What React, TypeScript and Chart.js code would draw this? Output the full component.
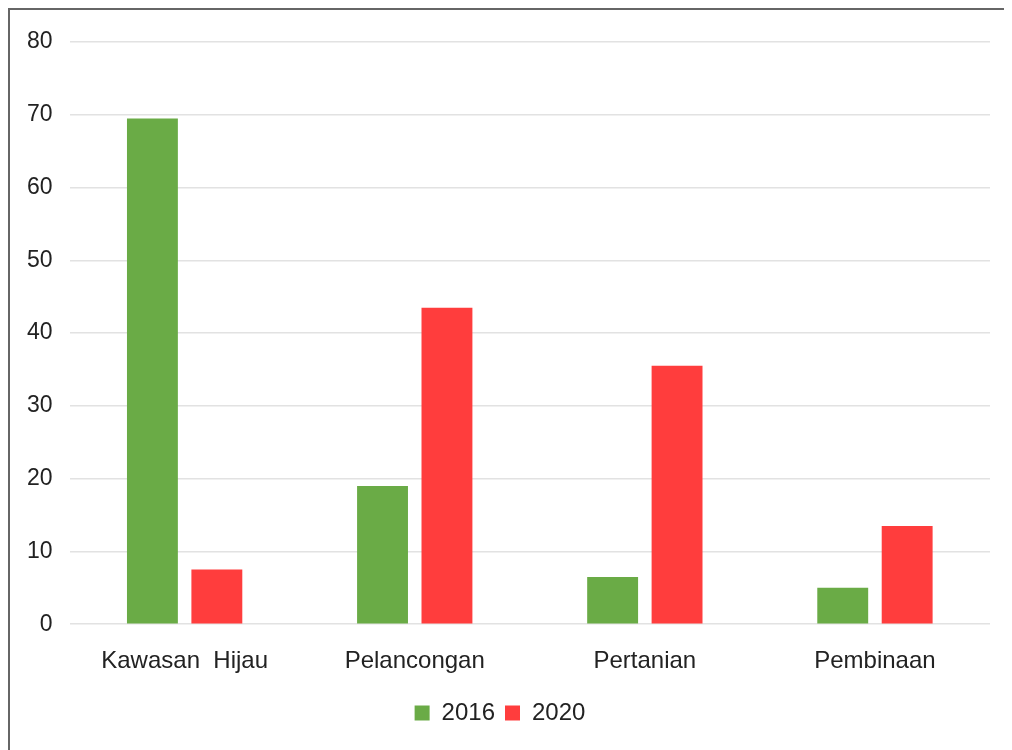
import React, { useEffect, useRef } from "react";
import { Chart, registerables } from "chart.js";

Chart.register(...registerables);

const categories = ["Kawasan  Hijau", "Pelancongan", "Pertanian", "Pembinaan"];
const series2016 = [69.5, 19, 6.5, 5];
const series2020 = [7.5, 43.5, 35.5, 13.5];
const seriesNames = ["2016", "2020"];
const yTicks = [0, 10, 20, 30, 40, 50, 60, 70, 80];

const FONT = "'Liberation Sans', Arial, sans-serif";

export default function App() {
  const ref = useRef<HTMLCanvasElement | null>(null);

  useEffect(() => {
    if (!ref.current) return;
    const chart = new Chart(ref.current, {
      type: "bar",
      data: {
        labels: categories,
        datasets: [
          {
            label: seriesNames[0],
            data: series2016,
            backgroundColor: "#6aab46",
            categoryPercentage: 0.56,
            barPercentage: 0.79,
          },
          {
            label: seriesNames[1],
            data: series2020,
            backgroundColor: "#ff3d3d",
            categoryPercentage: 0.56,
            barPercentage: 0.79,
          },
        ],
      },
      options: {
        animation: false,
        responsive: true,
        maintainAspectRatio: false,
        layout: { padding: { top: 32, right: 22, bottom: 15, left: 0 } },
        plugins: {
          tooltip: { enabled: false },
          legend: {
            position: "bottom",
            labels: {
              boxWidth: 15,
              boxHeight: 15,
              padding: 10,
              color: "#222",
              font: { family: FONT, size: 24 },
            },
          },
        },
        scales: {
          x: {
            grid: { display: false },
            border: { display: false },
            afterFit: (axis: any) => {
              axis.paddingLeft = 0;
              axis.paddingRight = 0;
            },
            ticks: {
              color: "#222",
              padding: 15,
              font: { family: FONT, size: 24 },
              maxRotation: 0,
            },
          },
          y: {
            min: 0,
            max: 80,
            afterBuildTicks: (axis: any) => {
              axis.ticks = yTicks.map((v) => ({ value: v }));
            },
            afterFit: (axis: any) => {
              axis.paddingTop = 0;
              axis.paddingBottom = 0;
            },
            grid: { color: "#e2e2e2", drawTicks: false, lineWidth: 1.5 },
            border: { display: false },
            ticks: {
              color: "#222",
              padding: 17,
              font: { family: FONT, size: 23 },
            },
          },
        },
      },
    });
    return () => chart.destroy();
  }, []);

  return (
    <div
      style={{
        width: 1004,
        height: 742,
        borderTop: "2px solid #666",
        borderLeft: "2px solid #666",
        boxSizing: "border-box",
        position: "relative",
        background: "#fff",
      }}
    >
      <canvas ref={ref} />
    </div>
  );
}
